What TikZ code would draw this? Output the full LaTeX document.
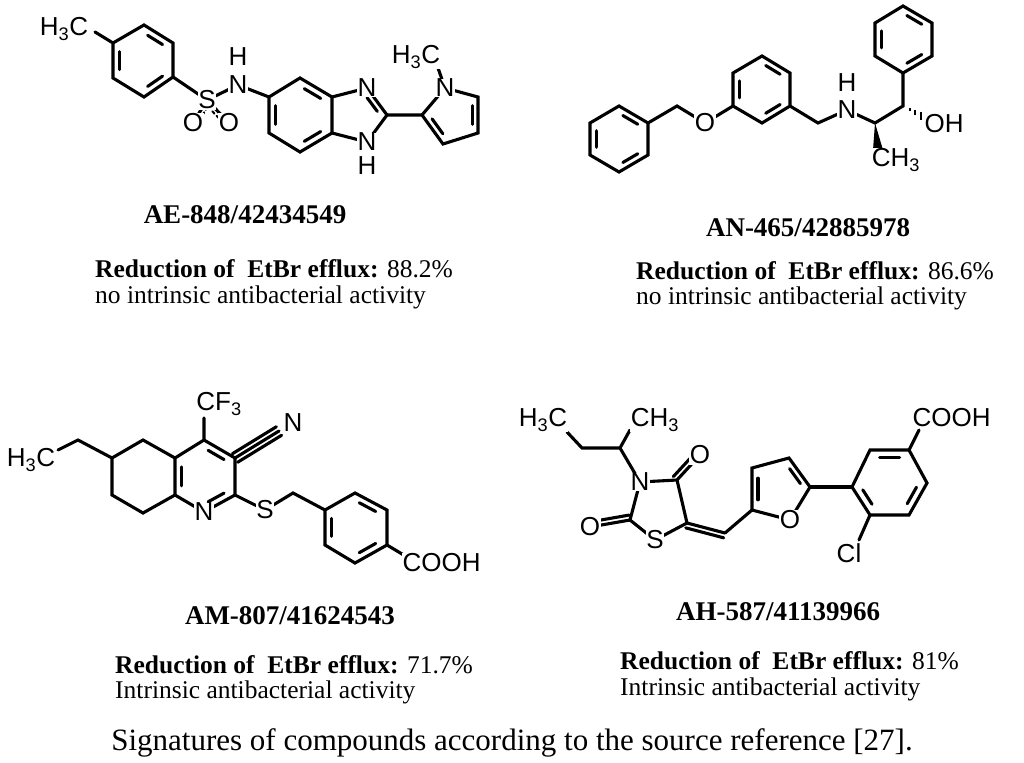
\documentclass[tikz,border=0pt]{standalone}
\usepackage{fontspec}
\setmainfont{Liberation Serif}
\setsansfont{Liberation Sans}
\usetikzlibrary{calc}
\tikzset{
 atom/.style={font=\sffamily\fontsize{26}{26}\selectfont, fill=white, inner sep=0.5pt},
 bond/.style={line width=3.1pt, line cap=round},
 lbl/.style={font=\fontsize{27}{30}\selectfont\bfseries},
 txt/.style={font=\fontsize{25.5}{30}\selectfont, anchor=west, inner sep=0pt},
}
\newcommand\ib[3]{\draw[bond] ($(#1)!0.17!(#2)!0.22!(#3)$) -- ($(#2)!0.17!(#1)!0.22!(#3)$);}
\newcommand\db[2]{\draw[bond] ($(#1)!5pt!90:(#2)$) -- ($(#2)!5pt!-90:(#1)$);}
\begin{document}
\begin{tikzpicture}[x=1pt,y=-1pt]
\useasboundingbox (0,0) rectangle (1024,762);
\begin{scope}[bond]
% ---------- structure 1
\foreach \n/\p in {a1/{144,25},a2/{173,43},a3/{173,77},a4/{144,97},a5/{113,78},a6/{113,43},ac/{143,61},
 am/{95,32},S/{207,100},N1/{238,85},O1/{193,123},O2/{229,123},
 b1/{300,78},b2/{332,97},b3/{332,133},b4/{300,152},b5/{269,133},b6/{269,97},bc/{300,115},
 Na/{367,88},C2/{387,115},Nb/{367,142},ic/{355,115},
 p2/{422,115},pN/{445,88},p5/{478,97},p4/{478,133},p3/{443,144},pc/{455,115},pm/{438,68}}
 \coordinate (\n) at (\p);
\draw (a1)--(a2)--(a3)--(a4)--(a5)--(a6)--cycle (a6)--(am);
\ib{a1}{a2}{ac}\ib{a3}{a4}{ac}\ib{a5}{a6}{ac}
\draw (a3)--(S)--(N1)--(b6) (S)--(O1) (S)--(O2);
\draw[dashed,line width=2pt] ($(S)!4pt!90:(O1)$)--($(O1)!4pt!-90:(S)$) ($(S)!4pt!-90:(O2)$)--($(O2)!4pt!90:(S)$);
\draw (b1)--(b2)--(b3)--(b4)--(b5)--(b6)--cycle;
\ib{b1}{b2}{bc}\ib{b3}{b4}{bc}\ib{b5}{b6}{bc}
\draw (b2)--(Na)--(C2)--(Nb)--(b3); \ib{Na}{C2}{ic}
\draw (C2)--(p2)--(pN)--(p5)--(p4)--(p3)--(p2) (pN)--(pm);
\ib{p5}{p4}{pc}\ib{p3}{p2}{pc}
% ---------- structure 2
\foreach \n/\p in {r1/{619,106},r2/{648,123},r3/{648,155},r4/{619,172},r5/{590,155},r6/{590,123},rc/{619,139},
 m1/{677,106},Ox/{705,123},s1/{733,106},s2/{733,73},s3/{762,56},s4/{790,73},s5/{790,106},s6/{762,123},sc/{762,89},
 m2/{818,123},N2/{847,110},c1/{875,123},c2/{903,106},cw/{878,150},oh/{925,118},
 t1/{903,73},t2/{932,56},t3/{932,23},t4/{903,6},t5/{875,23},t6/{875,56},tc/{903,39}}
 \coordinate (\n) at (\p);
\draw (r1)--(r2)--(r3)--(r4)--(r5)--(r6)--cycle; \ib{r1}{r2}{rc}\ib{r3}{r4}{rc}\ib{r5}{r6}{rc}
\draw (r2)--(m1)--(Ox)--(s1);
\draw (s1)--(s2)--(s3)--(s4)--(s5)--(s6)--cycle; \ib{s1}{s2}{sc}\ib{s3}{s4}{sc}\ib{s5}{s6}{sc}
\draw (s5)--(m2)--(N2)--(c1)--(c2)--(t1);
\draw (t1)--(t2)--(t3)--(t4)--(t5)--(t6)--cycle; \ib{t1}{t2}{tc}\ib{t3}{t4}{tc}\ib{t5}{t6}{tc}
\fill (c1) -- ($(cw)+(-5,0)$) -- ($(cw)+(5,0)$) -- cycle;
\foreach \f in {0.3,0.55,0.8} \draw[line width=2pt,line cap=butt] ($(c2)!\f!(oh)+(0,{-5*\f})$) -- ($(c2)!\f!(oh)+(0,{5*\f})$);
% ---------- structure 3
\foreach \n/\p in {cf/{204,418},k4/{204,440},k3/{235,458},cn/{279,431},k2/{235,495},k1/{204,512},k8a/{175,495},k4a/{175,458},
 k5/{143,440},k6/{112,458},k7/{112,495},k8/{143,513},kc/{204,476},e1/{78,440},e2/{58,450},
 S3/{265,510},h1/{293,493},u1/{325,510},u2/{355,493},u3/{387,510},u4/{387,545},u5/{355,563},u6/{325,545},uc/{355,527},uo/{407,557}}
 \coordinate (\n) at (\p);
\draw (k4)--(k3)--(k2)--(k1)--(k8a)--(k4a)--cycle (k4)--(cf);
\ib{k4}{k3}{kc}\ib{k2}{k1}{kc}\ib{k8a}{k4a}{kc}
\draw (k4a)--(k5)--(k6)--(k7)--(k8)--(k8a) (k6)--(e1)--(e2);
\draw (k3)--(cn) ($(k3)!5pt!90:(cn)$)--($(cn)!5pt!-90:(k3)$) ($(k3)!5pt!-90:(cn)$)--($(cn)!5pt!90:(k3)$);
\draw (k2)--(S3)--(h1)--(u1);
\draw (u1)--(u2)--(u3)--(u4)--(u5)--(u6)--cycle; \ib{u2}{u3}{uc}\ib{u4}{u5}{uc}\ib{u6}{u1}{uc}
\draw (u4)--(uo);
% ---------- structure 4
\foreach \n/\p in {q1/{567,432},q2/{582,448},q3/{620,448},qm/{630,430},N4/{640,482},z4/{677,480},z5/{687,523},S4/{655,540},z2/{630,520},
 O4/{700,455},O5/{590,527},ch/{725,533},f2/{752,510},f3/{752,468},f4/{789,458},f5/{810,487},fO/{790,520},fc/{779,489},
 g1/{852,487},g2/{870,450},g3/{909,450},g4/{927,483},g5/{909,515},g6/{870,515},gc/{890,483},go/{919,430},gl/{859,540}}
 \coordinate (\n) at (\p);
\draw (q1)--(q2)--(q3)--(qm) (q3)--(N4)--(z4)--(z5)--(S4)--(z2)--(N4);
\draw (z4)--(O4) (z2)--(O5) (z5)--(ch);
\db{z4}{O4}\db{O5}{z2}\db{ch}{z5}
\draw (ch)--(f2)--(f3)--(f4)--(f5)--(fO)--(f2); \ib{f2}{f3}{fc}\ib{f4}{f5}{fc}
\draw (f5)--(g1);
\draw (g1)--(g2)--(g3)--(g4)--(g5)--(g6)--cycle; \ib{g2}{g3}{gc}\ib{g4}{g5}{gc}\ib{g6}{g1}{gc}
\draw (g3)--(go) (g6)--(gl);
\end{scope}
% ---------- atom labels
\node[atom] (lS1m) at (64,29) {H\textsubscript{3}C};
\node[atom] (lS) at (S) {S};
\node[atom] (lN1) at (N1) {N};
\node[atom] (lH1) at (238,57) {H};
\node[atom] (lO1) at (O1) {O};
\node[atom] (lO2) at (O2) {O};
\node[atom] (lNa) at (Na) {N};
\node[atom] (lNb) at (Nb) {N};
\node[atom] (lHb) at (367,166) {H};
\node[atom] (lpN) at (pN) {N};
\node[atom] (lpm) at (416,57) {H\textsubscript{3}C};
\node[atom] (lOx) at (Ox) {O};
\node[atom] (lN2) at (N2) {N};
\node[atom] (lH2) at (847,83) {H};
\node[atom] (lCH3) at (896,160) {CH\textsubscript{3}};
\node[atom,anchor=west] (lOH) at (924,124) {OH};
\node[atom] (lCF) at (219,404) {CF\textsubscript{3}};
\node[atom] (lCN) at (293,423) {N};
\node[atom] (lk1) at (k1) {N};
\node[atom] (lS3) at (S3) {S};
\node[atom] (le) at (31,460) {H\textsubscript{3}C};
\node[atom,anchor=west] (lcooh1) at (402,563) {COOH};
\node[atom] (lq1) at (543,420) {H\textsubscript{3}C};
\node[atom] (lqm) at (655,420) {CH\textsubscript{3}};
\node[atom] (lN4) at (N4) {N};
\node[atom] (lO4) at (O4) {O};
\node[atom] (lO5) at (O5) {O};
\node[atom] (lS4) at (S4) {S};
\node[atom] (lfO) at (fO) {O};
\node[atom,anchor=west] (lcooh2) at (912,418) {COOH};
\node[atom] (lCl) at (849,553) {Cl};
% ---------- texts
\node[lbl] (n1) at (245,215) {AE-848/42434549};
\node[txt] (r1a) at (95,269) {\textbf{Reduction of\ \ EtBr efflux:} 88.2\%};
\node[txt] (r1b) at (95,297) {no intrinsic antibacterial activity};
\node[lbl] (n2) at (808,228) {AN-465/42885978};
\node[txt] (r2a) at (636,271) {\textbf{Reduction of\ \ EtBr efflux:} 86.6\%};
\node[txt] (r2b) at (636,298) {no intrinsic antibacterial activity};
\node[lbl] (n3) at (290,616) {AM-807/41624543};
\node[txt] (r3a) at (115,665) {\textbf{Reduction of\ \ EtBr efflux:} 71.7\%};
\node[txt] (r3b) at (115,692) {Intrinsic antibacterial activity};
\node[lbl] (n4) at (778,612) {AH-587/41139966};
\node[txt] (r4a) at (620,661) {\textbf{Reduction of\ \ EtBr efflux:} 81\%};
\node[txt] (r4b) at (620,689) {Intrinsic antibacterial activity};
\node[font=\fontsize{31}{34}\selectfont] (cap) at (512,743) {Signatures of compounds according to the source reference [27].};
\end{tikzpicture}
\end{document}
